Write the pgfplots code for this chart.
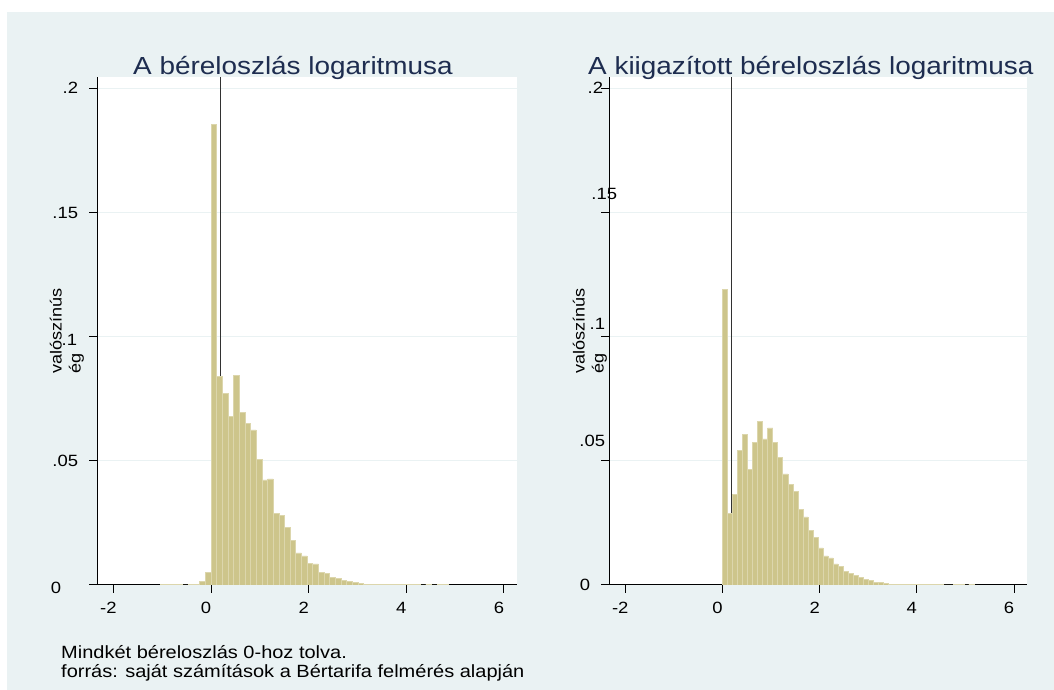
\documentclass[border=0pt]{standalone}
\usepackage{pgfplots}
\pgfplotsset{compat=1.18}
\usepackage{fontspec}
\setmainfont[FakeStretch=1.13]{Liberation Sans}
\definecolor{bgc}{RGB}{234,242,243}
\definecolor{titlec}{RGB}{30,45,80}
\definecolor{barfill}{RGB}{205,197,139}
\definecolor{baredge}{RGB}{220,214,172}
\definecolor{vline}{RGB}{50,50,50}
\newcommand\ticksize{\fontsize{16.3}{19}\selectfont}
\newcommand\lab[3]{\makebox[0pt][r]{\raisebox{#2pt}[0pt][0pt]{#3}\hspace{#1pt}}}
\pgfplotsset{
  hist/.style={
    scale only axis, width=420pt, height=508pt,
    xmin=-2.335, xmax=6.267, ymin=0, ymax=0.2045,
    axis lines=left, axis line style={-, black, line width=1pt},
    axis background/.style={fill=white},
    tick align=outside, major tick length=8pt,
    tick style={black, line width=1pt},
    xtick={-2,0,2,4,6}, xticklabels={-2,0,2,4,6},
    ytick={0,0.05,0.1,0.15,0.2},
    xticklabel style={anchor=base, inner sep=0pt, yshift=-20.7pt, xshift=-5pt, font=\ticksize},
    yticklabel style={anchor=base, inner sep=0pt, font=\ticksize},
    ymajorgrids, grid style={bgc, line width=1.2pt},
    ylabel={valószínús\\ég},
    ylabel style={align=left, font=\fontsize{16}{19}\selectfont, anchor=center},
  }
}
\begin{document}
\begin{tikzpicture}[x=1pt,y=1pt]
\useasboundingbox (0,0) rectangle (1054,690);
\fill[white] (0,0) rectangle (1054,690);
\fill[bgc] (7,0) rectangle (1054,678);

\begin{axis}[hist, at={(97pt,105pt)}, anchor=south west, width=420pt,
  yticklabels={{\lab{28}{-8.8}{0}},{\lab{11}{-5.8}{.05}},{\lab{12}{-9}{.1}},{\lab{11}{-5.8}{.15}},{\lab{11}{-5.8}{.2}}},
  ylabel style={at={(axis description cs:-0.0714,0.5)}}]
\addplot[draw=vline, line width=1pt] coordinates {(0.185,0) (0.185,0.2045)};
\addplot[ybar interval, fill=barfill, draw=baredge, line width=0.7pt] coordinates {
(-1.0422,0.0004) (-0.9264,0.0004) (-0.8106,0.0004) (-0.6948,0.0004) (-0.5790,0)
(-0.4632,0.0004) (-0.3474,0.0004) (-0.2316,0.0016) (-0.1158,0.0052)
(0,0.1854) (0.1158,0.0841) (0.2316,0.0770) (0.3474,0.0680) (0.4632,0.0844)
(0.5790,0.0696) (0.6948,0.0649) (0.8106,0.0624) (0.9264,0.0507) (1.0422,0.0423)
(1.1580,0.0427) (1.2738,0.0287) (1.3896,0.0280) (1.5054,0.0233) (1.6212,0.0181)
(1.7370,0.0129) (1.8528,0.0117) (1.9686,0.0088) (2.0844,0.0085) (2.2002,0.0052)
(2.3160,0.0046) (2.4318,0.0029) (2.5476,0.0028) (2.6634,0.0018) (2.7792,0.0015)
(2.8950,0.0011) (3.0108,0.0008) (3.1266,0.0004) (3.2424,0.0004) (3.3582,0.0004)
(3.4740,0.0004) (3.5898,0.0004) (3.7056,0.0004) (3.8214,0.0004) (3.9372,0.0004)
(4.0530,0.0004) (4.1688,0.0004) (4.2846,0) (4.4004,0.0004) (4.5162,0)
(4.6320,0.0004) (4.7478,0.0004) (4.8636,0)};
\end{axis}

\begin{axis}[hist, at={(609pt,105pt)}, anchor=south west, width=418pt,
  yticklabels={{\lab{11}{-5.8}{0}},{\lab{-4}{14.2}{.05}},{\lab{-4}{7.3}{.1}},{\lab{-16}{13.2}{.15}},{\lab{-2}{-5.8}{.2}}},
  ylabel style={at={(axis description cs:-0.0455,0.5)}}]
\addplot[draw=vline, line width=1pt] coordinates {(0.185,0) (0.185,0.2045)};
\addplot[ybar interval, fill=barfill, draw=baredge, line width=0.7pt] coordinates {
(0,0.1190) (0.1035,0.0287) (0.2070,0.0366) (0.3105,0.0543) (0.4140,0.0606)
(0.5175,0.0464) (0.6210,0.0575) (0.7245,0.0660) (0.8280,0.0588) (0.9315,0.0632)
(1.0350,0.0573) (1.1385,0.0514) (1.2420,0.0447) (1.3455,0.0406) (1.4490,0.0378)
(1.5525,0.0303) (1.6560,0.0274) (1.7595,0.0221) (1.8630,0.0193) (1.9665,0.0149)
(2.0700,0.0117) (2.1735,0.0109) (2.2770,0.0085) (2.3805,0.0074) (2.4840,0.0053)
(2.5875,0.0047) (2.6910,0.0037) (2.7945,0.0030) (2.8980,0.0024) (3.0015,0.0018)
(3.1050,0.0011) (3.2085,0.0009) (3.3120,0.0006) (3.4155,0.0004) (3.5190,0.0004)
(3.6225,0.0004) (3.7260,0.0004) (3.8295,0.0004) (3.9330,0.0004) (4.0365,0.0004)
(4.1400,0.0004) (4.2435,0.0004) (4.3470,0.0004) (4.4505,0.0004) (4.5540,0)
(4.6575,0) (4.7610,0.0004) (4.8645,0.0004) (4.9680,0) (5.0715,0.0004) (5.1750,0)};
\end{axis}

\node[anchor=base west, inner sep=0pt, text=titlec, font=\fontsize{24.7}{29}\selectfont] at (133,615) {A béreloszlás logaritmusa};
\node[anchor=base west, inner sep=0pt, text=titlec, font=\fontsize{24.7}{29}\selectfont] at (588,615) {A kiigazított béreloszlás logaritmusa};
\node[anchor=base west, inner sep=0pt, font=\fontsize{17.7}{18.6}\selectfont] at (61,31.3) {Mindkét béreloszlás 0-hoz tolva.};
\node[anchor=base west, inner sep=0pt, font=\fontsize{17.7}{18.6}\selectfont] at (61,12.7) {forrás: saját számítások a Bértarifa felmérés alapján};
\end{tikzpicture}
\end{document}
